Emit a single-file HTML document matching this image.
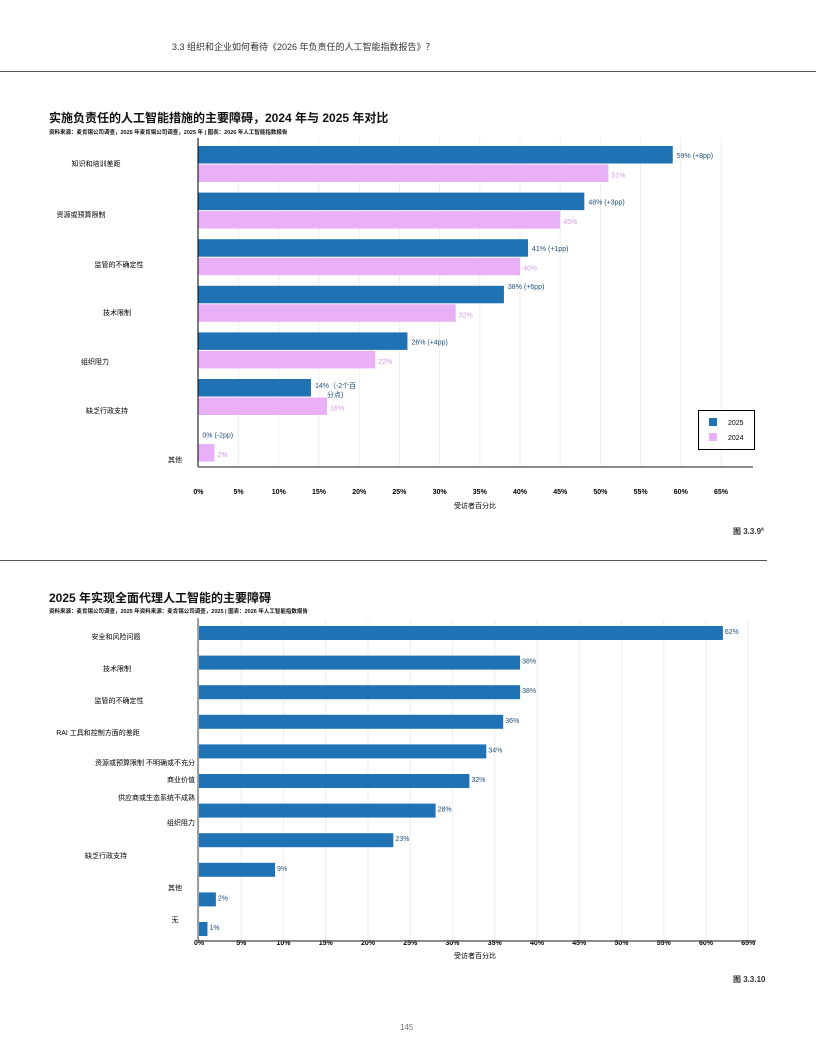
<!DOCTYPE html>
<html><head><meta charset="utf-8">
<style>
body{margin:0;background:#fff;}
#page{position:relative;width:816px;height:1056px;overflow:hidden;font-family:"Liberation Sans","Noto Sans CJK SC",sans-serif;color:#111;}
.t{position:absolute;white-space:nowrap;}
svg{position:absolute;left:0;top:0;}
</style></head>
<body>
<div id="page">
<div class="t" style="left:172px;top:40px;font-size:9px;color:#333">3.3 组织和企业如何看待《2026 年负责任的人工智能指数报告》？</div>
<div style="position:absolute;left:0;top:71px;width:816px;height:1px;background:#555"></div>

<div class="t" style="left:49px;top:109px;font-size:12px;font-weight:bold">实施负责任的人工智能措施的主要障碍，2024 年与 2025 年对比</div>
<div class="t" style="left:49px;top:128px;font-size:5.5px;font-weight:bold">资料来源：麦肯锡公司调查，2025 年麦肯锡公司调查，2025 年 | 图表：2026 年人工智能指数报告</div>

<div style="position:absolute;left:0;top:560px;width:767px;height:1px;background:#555"></div>
<div class="t" style="left:49px;top:589px;font-size:12px;font-weight:bold">2025 年实现全面代理人工智能的主要障碍</div>
<div class="t" style="left:49px;top:607px;font-size:5.5px;font-weight:bold">资料来源：麦肯锡公司调查，2025 年资料来源：麦肯锡公司调查，2025 | 图表：2026 年人工智能指数报告</div>

<div class="t" style="left:733px;top:526px;font-size:8px;font-weight:bold;color:#333">图 3.3.9<sup style="font-size:5px">a</sup></div>
<div class="t" style="left:733px;top:974px;font-size:8px;font-weight:bold;color:#333">图 3.3.10</div>
<div class="t" style="left:400px;top:1023px;font-size:8px;color:#777">145</div>

<svg id="c1" width="816" height="1056"></svg>
<svg id="c2" width="816" height="1056"></svg>
</div>
<script>
const cats1=["知识和培训差距","资源或预算限制","监管的不确定性","技术限制","组织阻力","缺乏行政支持","其他"];
const vals2025=[59,48,41,38,26,14,0];
const vals2024=[51,45,40,32,22,16,2];
const labels2025=["59% (+8pp)","48% (+3pp)","41% (+1pp)","38% (+6pp)","26% (+4pp)","14%（-2个百|分点)","0% (-2pp)"];
const ticks1=[0,5,10,15,20,25,30,35,40,45,50,55,60,65];
const catLabelX1=[96,81,119,117,95,107,175];
const catLabelY1=[163,214,264,312,361,410,459];

const cats2=["安全和风险问题","技术限制","监管的不确定性","RAI 工具和控制方面的差距","资源或预算限制 不明确或不充分","商业价值","供应商或生态系统不成熟","组织阻力","缺乏行政支持","其他","无"];
const vals2=[62,38,38,36,34,32,28,23,9,2,1];
const ticks2=[0,5,10,15,20,25,30,35,40,45,50,55,60,65];
const catLabelY2=[636,668,700,732,762,779,797,822,855,887,919];
const catLabelX2=[116,117,119,98,195,195,195,195,106,175,175];
const catAnchor2=["middle","middle","middle","middle","end","end","end","end","middle","middle","middle"];

const NS="http://www.w3.org/2000/svg";
function mk(svg,tag,attrs,txt){const e=document.createElementNS(NS,tag);for(const k in attrs)e.setAttribute(k,attrs[k]);if(txt!==undefined)e.textContent=txt;svg.appendChild(e);return e;}
const FONT='"Liberation Sans","Noto Sans CJK SC",sans-serif';

// chart 1
(function(){
const s=document.getElementById('c1');
const x=p=>198.4+p*8.04;
const y0=146,pitch=46.6,bh=17.5;
ticks1.forEach(t=>{
  const g=mk(s,'line',{x1:x(t),x2:x(t),y1:138,y2:467,stroke:'#eee','stroke-width':1});
  
  
  const l=mk(s,'text',{x:x(t),y:494,'font-size':7,'font-weight':'bold','text-anchor':'middle','font-family':FONT},t+'%');
  
  
});
cats1.forEach((c,i)=>{
  const yy=y0+i*pitch;
  const b=mk(s,'rect',{x:x(0),y:yy,width:x(vals2025[i])-x(0),height:bh,fill:'#1f72b4'});
  
  
  const b2=mk(s,'rect',{x:x(0),y:yy+bh+1,width:x(vals2024[i])-x(0),height:bh,fill:'#e9b0f7'});
  
  
  const parts=labels2025[i].split('|');
  const ly=yy+(i==3?3:(i==5?9:12));
  parts.forEach((p,k)=>{
    const l1=mk(s,'text',{x:x(vals2025[i])+4+(k?12:0),y:ly+k*9,'font-size':7,fill:'#1f4f7a','font-family':FONT},p);
    
    
  });
  const l2=mk(s,'text',{x:x(vals2024[i])+3,y:yy+bh+14,'font-size':7,fill:'#d59be6','font-family':FONT},vals2024[i]+'%');
  
  
  const cl=mk(s,'text',{x:catLabelX1[i],y:catLabelY1[i]+3,'font-size':7,'text-anchor':'middle','font-family':FONT},c);
  
  
});
const ya=mk(s,'line',{x1:198,x2:198,y1:138,y2:467,stroke:'#000','stroke-width':1});


const xa=mk(s,'line',{x1:198,x2:753,y1:467,y2:467,stroke:'#666','stroke-width':1.5});


const at=mk(s,'text',{x:475,y:508,'font-size':7,'text-anchor':'middle','font-family':FONT},'受访者百分比');


const lg=mk(s,'rect',{x:698.5,y:410.5,width:56,height:39,fill:'#fff',stroke:'#000','stroke-width':1});


const s1=mk(s,'rect',{x:709,y:418,width:8,height:8,fill:'#1f72b4'});


const t1=mk(s,'text',{x:728,y:425,'font-size':7,'font-family':FONT},'2025');


const s2=mk(s,'rect',{x:709,y:433,width:8,height:8,fill:'#e9b0f7'});


const t2=mk(s,'text',{x:728,y:440,'font-size':7,'font-family':FONT},'2024');


})();

// chart 2
(function(){
const s=document.getElementById('c2');
const x=p=>199+p*8.45;
const y0=626,pitch=29.6,bh=14;
ticks2.forEach(t=>{
  const g=mk(s,'line',{x1:x(t),x2:x(t),y1:620,y2:941,stroke:'#eee','stroke-width':1});
  
  
  const l=mk(s,'text',{x:x(t),y:945,'font-size':7,'font-weight':'bold','text-anchor':'middle','font-family':FONT},t+'%');
  
  
});
cats2.forEach((c,i)=>{
  const yy=y0+i*pitch;
  const b=mk(s,'rect',{x:x(0),y:yy,width:x(vals2[i])-x(0),height:bh,fill:'#1f72b4'});
  
  
  const l=mk(s,'text',{x:x(vals2[i])+2,y:yy+8,'font-size':7,fill:'#1f4f7a','font-family':FONT},vals2[i]+'%');
  
  
  const cl=mk(s,'text',{x:catLabelX2[i],y:catLabelY2[i]+3,'font-size':7,'text-anchor':catAnchor2[i],'font-family':FONT},c);
  
  
});
const ya=mk(s,'line',{x1:198,x2:198,y1:618,y2:941,stroke:'#444','stroke-width':1});


const xa=mk(s,'line',{x1:198,x2:756,y1:941,y2:941,stroke:'#666','stroke-width':1.5});


const at=mk(s,'text',{x:475,y:958,'font-size':7,'text-anchor':'middle','font-family':FONT},'受访者百分比');


})();
</script>
</body></html>
